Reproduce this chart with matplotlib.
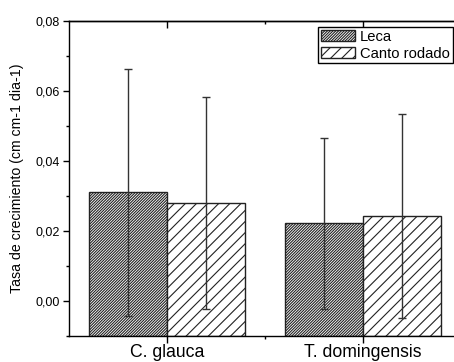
import numpy as np
import matplotlib
matplotlib.use('Agg')
import matplotlib.pyplot as plt
from matplotlib.ticker import FuncFormatter, MultipleLocator, FixedLocator

plt.rcParams['font.family'] = ['Liberation Sans', 'DejaVu Sans']
plt.rcParams['hatch.linewidth'] = 0.8

#data
categories = ['C. glauca', 'T. domingensis']
leca = [0.0310, 0.0222]
leca_err = [0.0353, 0.0245]
canto = [0.0279, 0.0242]
canto_err = [0.0303, 0.0292]
series_names = ['Leca', 'Canto rodado']

fig = plt.figure(figsize=(4.54, 3.62), dpi=100)
ax = fig.add_axes([0.152, 0.072, 0.848, 0.870])

x = np.arange(1, len(categories) + 1)
w = 0.4
ymin, ymax = -0.01, 0.08

#bars start at the bottom of the axis (Origin style)
ax.bar(x - w/2, np.array(leca) - ymin, w, bottom=ymin, facecolor='white',
       edgecolor='#222222', hatch='////////////', linewidth=1.0,
       label=series_names[0], zorder=2)
ax.bar(x + w/2, np.array(canto) - ymin, w, bottom=ymin, facecolor='white',
       edgecolor='#222222', hatch='///', linewidth=1.0,
       label=series_names[1], zorder=2)

#error bars
ax.errorbar(x - w/2, leca, yerr=leca_err, fmt='none', ecolor='#333333',
            elinewidth=1.0, capsize=3, capthick=1.0, zorder=3)
ax.errorbar(x + w/2, canto, yerr=canto_err, fmt='none', ecolor='#333333',
            elinewidth=1.0, capsize=3, capthick=1.0, zorder=3)

ax.set_xlim(0.497, 2.467)
ax.set_ylim(ymin, ymax)

ax.spines['right'].set_visible(False)
for s in ['left', 'bottom', 'top']:
    ax.spines[s].set_linewidth(1.0)

#y axis
ax.yaxis.set_major_locator(MultipleLocator(0.02))
ax.yaxis.set_minor_locator(MultipleLocator(0.01))
ax.yaxis.set_major_formatter(FuncFormatter(lambda v, p: ('%.2f' % v).replace('.', ',')))
ax.tick_params(axis='y', which='major', direction='out', length=4.5, width=1.0,
               labelsize=9, pad=2)
ax.tick_params(axis='y', which='minor', direction='out', length=2.5, width=1.0)

#x axis
ax.set_xticks(x)
ax.set_xticklabels(categories)
ax.xaxis.set_minor_locator(FixedLocator([1.5]))
ax.tick_params(axis='x', which='major', direction='out', length=5, width=1.0,
               labelsize=12.7, pad=1)
ax.tick_params(axis='x', which='minor', direction='out', length=2.5, width=1.0)

#top ticks pointing in
top = ax.secondary_xaxis('top')
top.set_xticks(x)
top.xaxis.set_minor_locator(FixedLocator([1.5]))
top.tick_params(which='major', direction='in', length=5, width=1.0, labeltop=False)
top.tick_params(which='minor', direction='in', length=2.5, width=1.0)
top.spines['top'].set_linewidth(1.0)

ax.set_ylabel('Tasa de crecimiento (cm cm-1 dia-1)', fontsize=10.2, labelpad=8)

leg = ax.legend(loc='upper right', bbox_to_anchor=(0.9966, 0.982), borderaxespad=0,
                fontsize=10.6, frameon=True, fancybox=False, framealpha=1,
                edgecolor='black', handlelength=2.3, handleheight=0.85,
                handletextpad=0.35, labelspacing=0.2, borderpad=0.2)
leg.get_frame().set_linewidth(1.0)

fig.savefig('out.png', dpi=100)
